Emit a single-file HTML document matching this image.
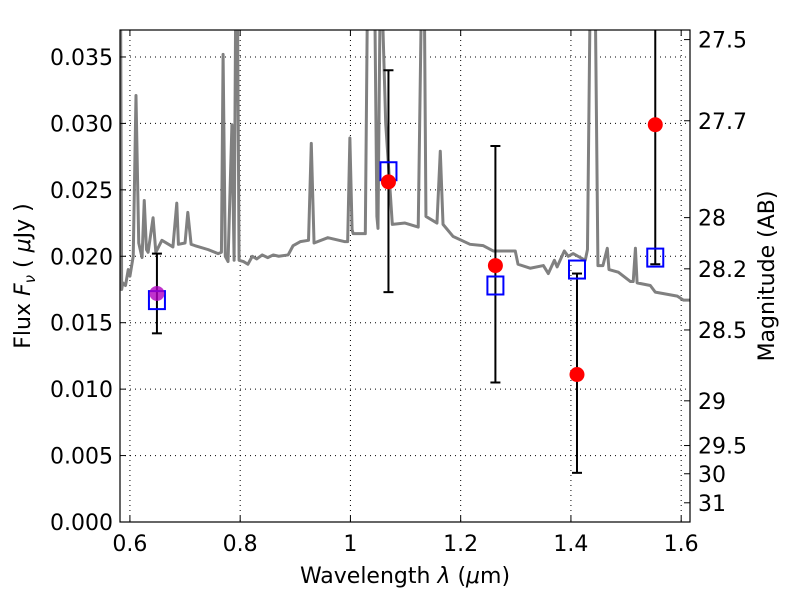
<!DOCTYPE html>
<html><head><meta charset="utf-8"><style>
body{margin:0;background:#fff;}
svg{font-family:"DejaVu Sans","Liberation Sans",sans-serif;}
</style></head><body>
<svg id="chart" width="800" height="600" xmlns="http://www.w3.org/2000/svg"></svg>
<script>
const specWave=[0.582,0.583,0.585,0.587,0.592,0.597,0.600,0.606,0.611,0.616,0.622,0.626,0.630,0.633,0.642,0.647,0.658,0.678,0.685,0.688,0.700,0.705,0.711,0.718,0.742,0.760,0.766,0.769,0.773,0.778,0.785,0.789,0.792,0.795,0.798,0.806,0.814,0.822,0.830,0.840,0.850,0.860,0.870,0.887,0.896,0.909,0.924,0.929,0.934,0.959,0.990,0.995,0.999,1.003,1.005,1.027,1.031,1.035,1.044,1.048,1.050,1.054,1.057,1.064,1.076,1.099,1.123,1.129,1.131,1.134,1.137,1.157,1.163,1.168,1.186,1.217,1.241,1.259,1.299,1.304,1.326,1.350,1.359,1.370,1.375,1.388,1.395,1.404,1.426,1.430,1.435,1.444,1.449,1.458,1.466,1.469,1.486,1.508,1.513,1.517,1.520,1.544,1.553,1.593,1.604,1.616];
const specFlux=[0.040,0.040,0.0175,0.018,0.0178,0.019,0.0185,0.020,0.0321,0.021,0.0199,0.0242,0.0205,0.0203,0.0229,0.0203,0.0212,0.0207,0.0240,0.0209,0.0210,0.0233,0.0209,0.0208,0.0205,0.0202,0.0203,0.0352,0.0200,0.0196,0.0299,0.0197,0.040,0.040,0.0197,0.0196,0.0194,0.0200,0.0198,0.0201,0.0199,0.0201,0.0200,0.0201,0.0208,0.0211,0.0212,0.0285,0.0210,0.0214,0.0211,0.0211,0.0289,0.0220,0.0217,0.0217,0.040,0.040,0.040,0.023,0.0221,0.040,0.040,0.030,0.0224,0.0225,0.0222,0.040,0.040,0.040,0.0230,0.0225,0.0279,0.0224,0.0215,0.0209,0.0208,0.0204,0.0204,0.0194,0.0191,0.0193,0.0187,0.0197,0.0192,0.0204,0.0200,0.0202,0.0197,0.0205,0.040,0.040,0.0193,0.0193,0.0206,0.0190,0.0188,0.0181,0.0181,0.0206,0.0180,0.0178,0.0173,0.0170,0.0167,0.0167];
const photWave=[0.649,1.069,1.263,1.411,1.553];
const photFlux=[0.0172,0.0256,0.0193,0.0111,0.0299];
const photLow=[0.0142,0.0173,0.0105,0.0037,0.0194];
const photHigh=[0.0202,0.0340,0.0283,0.0187,0.0400];
const modelFlux=[0.0167,0.0264,0.0178,0.0190,0.0199];
const xTicks=[0.6,0.8,1.0,1.2,1.4,1.6];
const xTickLabels=["0.6","0.8","1","1.2","1.4","1.6"];
const yTicks=[0,0.005,0.01,0.015,0.02,0.025,0.03,0.035];
const yTickLabels=["0.000","0.005","0.010","0.015","0.020","0.025","0.030","0.035"];
const magTicks=[27.5,27.7,28,28.2,28.5,29,29.5,30,31];
const magTickLabels=["27.5","27.7","28","28.2","28.5","29","29.5","30","31"];

const L=120,R=690,T=30,B=522;
const xMin=0.582,xMax=1.616,yMin=0,yMax=0.03703;
const X=v=>L+(v-xMin)/(xMax-xMin)*(R-L);
const Y=v=>B-(v-yMin)/(yMax-yMin)*(B-T);
const magToFlux=m=>Math.pow(10,(23.9-m)/2.5);
const svg=document.getElementById('chart');
const NS='http://www.w3.org/2000/svg';
function mk(tag,attrs,parent){const e=document.createElementNS(NS,tag);for(const k in attrs)e.setAttribute(k,attrs[k]);(parent||svg).appendChild(e);return e;}

const defs=mk('defs',{});
const cp=mk('clipPath',{id:'clip'},defs);
mk('rect',{x:L,y:T,width:R-L,height:B-T},cp);

const grid=mk('g',{});


xTicks.forEach(v=>{mk('line',{x1:X(v),x2:X(v),y1:T,y2:B,stroke:'#000','stroke-width':1,'stroke-dasharray':'1,4'},grid);});
yTicks.forEach(v=>{mk('line',{x1:L,x2:R,y1:Y(v),y2:Y(v),stroke:'#000','stroke-width':1,'stroke-dasharray':'1,4'},grid);});

const sp=mk('polyline',{points:specWave.map((w,i)=>X(w)+','+Y(specFlux[i])).join(' '),fill:'none',stroke:'#808080','stroke-width':3,'clip-path':'url(#clip)','stroke-linejoin':'round'});



photWave.forEach((w,i)=>{
 const g=mk('g',{'clip-path':'url(#clip)'});
 
 
 const x=X(w);
 mk('line',{x1:x,x2:x,y1:Y(photLow[i]),y2:Y(photHigh[i]),stroke:'#000','stroke-width':2},g);
 mk('line',{x1:x-5,x2:x+5,y1:Y(photLow[i]),y2:Y(photLow[i]),stroke:'#000','stroke-width':2},g);
 mk('line',{x1:x-5,x2:x+5,y1:Y(photHigh[i]),y2:Y(photHigh[i]),stroke:'#000','stroke-width':2},g);
});
photWave.forEach((w,i)=>{
 const r=mk('rect',{x:X(w)-8,y:Y(modelFlux[i])-9,width:16,height:18,fill:'none',stroke:'#0000ff','stroke-width':2});
 
 
});
photWave.forEach((w,i)=>{
 const c=mk('circle',{cx:X(w),cy:Y(photFlux[i]),r:7.5,fill:i===0?'#b000c0':'#ff0000',stroke:'none','fill-opacity':i===0?0.8:1});
 
 
});

const fr=mk('rect',{x:L,y:T,width:R-L,height:B-T,fill:'none',stroke:'#000','stroke-width':1.2});



xTicks.forEach((v,i)=>{
 mk('line',{x1:X(v),x2:X(v),y1:B,y2:B-6,stroke:'#000'});
 mk('line',{x1:X(v),x2:X(v),y1:T,y2:T+6,stroke:'#000'});
 const t=mk('text',{x:X(v),y:B+29,'font-size':22,'text-anchor':'middle'});
 t.textContent=xTickLabels[i];
 
 
});
yTicks.forEach((v,i)=>{
 mk('line',{x1:L,x2:L+6,y1:Y(v),y2:Y(v),stroke:'#000'});
 const t=mk('text',{x:L-7,y:Y(v)+8,'font-size':22,'text-anchor':'end'});
 t.textContent=yTickLabels[i];
 
 
});
magTicks.forEach((m,i)=>{
 const y=Y(magToFlux(m));
 mk('line',{x1:R,x2:R-6,y1:y,y2:y,stroke:'#000'});
 const t=mk('text',{x:R+8,y:y+8,'font-size':22,'text-anchor':'start'});
 t.textContent=magTickLabels[i];
 
 
});

const xl=mk('text',{x:405,y:583,'font-size':22,'text-anchor':'middle','xml:space':'preserve'});
xl.innerHTML='Wavelength  <tspan font-style="italic">λ</tspan> (<tspan font-style="italic">μ</tspan>m)';


const yl=mk('text',{x:0,y:0,'font-size':22,'text-anchor':'middle',transform:'translate(30,276) rotate(-90)','xml:space':'preserve'});
yl.innerHTML='Flux  <tspan font-style="italic">F</tspan><tspan font-style="italic" font-size="15" dy="5">ν</tspan><tspan dy="-5">  ( </tspan><tspan font-style="italic">μ</tspan>Jy )';


const ml=mk('text',{x:0,y:0,'font-size':22,'text-anchor':'middle',transform:'translate(774,276) rotate(-90)'});
ml.textContent='Magnitude (AB)';


</script>
</body></html>
